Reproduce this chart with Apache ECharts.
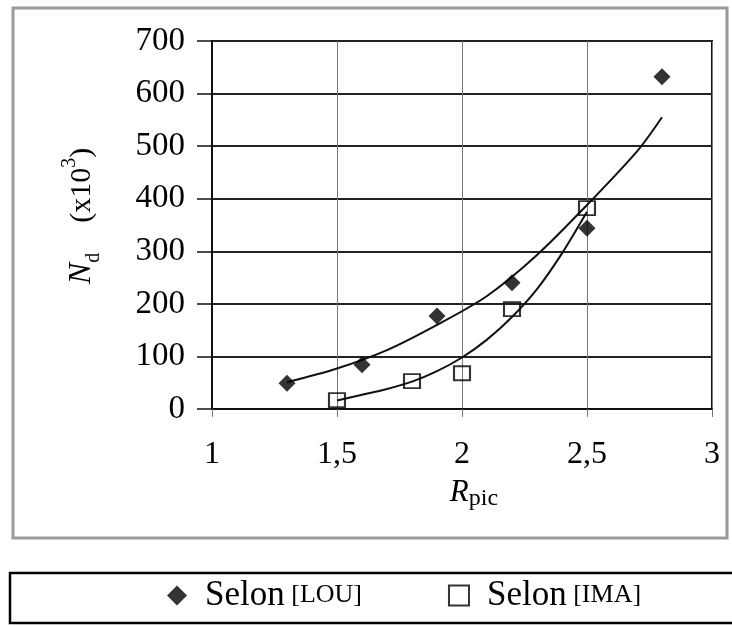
<!DOCTYPE html>
<html>
<head>
<meta charset="utf-8">
<script src="https://cdn.jsdelivr.net/npm/echarts@6/dist/echarts.min.js"></script>
<style>
  html, body { margin: 0; padding: 0; background: #fff; }
  #chart { width: 732px; height: 626px; }
</style>
</head>
<body>
<div id="chart"></div>
<script>
// ---- Data ----
const xTicks = [1, 1.5, 2, 2.5, 3];
const yTicks = [0, 100, 200, 300, 400, 500, 600, 700];

const louX = [1.3, 1.6, 1.9, 2.2, 2.5, 2.8];
const louY = [49, 84, 177, 240, 344, 632];

const imaX = [1.5, 1.8, 2.0, 2.2, 2.5];
const imaY = [17, 53, 68, 190, 382];

// trend curves
const louTrendX = [1.3, 1.5, 1.7, 1.9, 2.1, 2.3, 2.5, 2.7, 2.8];
const louTrendY = [51, 77, 112, 160, 215, 293, 388, 490, 555];

const imaTrendX = [1.5, 1.6, 1.7, 1.8, 1.9, 2.0, 2.1, 2.2, 2.3, 2.4, 2.5];
const imaTrendY = [16, 27, 38, 52, 72, 98, 132, 175, 228, 296, 375];

const seriesNames = ['Selon [LOU]', 'Selon [IMA]'];

const pairs = (xs, ys) => xs.map((x, i) => [x, ys[i]]);
const FONT = 'Liberation Serif';

const chart = echarts.init(document.getElementById('chart'), null, { renderer: 'canvas' });

chart.setOption({
  backgroundColor: '#fff',
  animation: false,
  textStyle: { fontFamily: FONT, color: '#000' },
  grid: {
    left: 212, right: 20, top: 41, bottom: 217,
    show: true, borderColor: '#111', borderWidth: 2, backgroundColor: 'transparent'
  },
  graphic: [
    { type: 'rect', z: -10, shape: { x: 13, y: 8, width: 714, height: 530 },
      style: { fill: 'none', stroke: '#9a9a9a', lineWidth: 3 } },
    { type: 'rect', z: -10, shape: { x: 10, y: 573, width: 740, height: 50 },
      style: { fill: 'none', stroke: '#000', lineWidth: 2.5 } }
  ],
  xAxis: {
    type: 'value', min: xTicks[0], max: xTicks[xTicks.length - 1], interval: 0.5,
    axisLine: { show: true, lineStyle: { color: '#111', width: 2 } },
    axisTick: { show: true, length: 8, lineStyle: { color: '#777', width: 1 } },
    splitLine: { show: true, lineStyle: { color: '#777', width: 1 } },
    axisLabel: {
      fontFamily: FONT, fontSize: 32, color: '#000', margin: 30,
      formatter: v => String(v).replace('.', ',')
    },
    name: '{r|R}{p|pic}',
    nameLocation: 'middle', nameGap: 66,
    nameTextStyle: {
      padding: [0, 0, 0, 24],
      rich: {
        r: { fontFamily: FONT, fontStyle: 'italic', fontSize: 31, lineHeight: 36, color: '#000' },
        p: { fontFamily: FONT, fontSize: 24, lineHeight: 30, verticalAlign: 'bottom', color: '#000' }
      }
    }
  },
  yAxis: {
    type: 'value', min: yTicks[0], max: yTicks[yTicks.length - 1], interval: 100,
    axisLine: { show: true, lineStyle: { color: '#111', width: 2 } },
    axisTick: { show: true, length: 15, lineStyle: { color: '#111', width: 1.5 } },
    splitLine: { show: true, lineStyle: { color: '#222', width: 1.8 } },
    axisLabel: { fontFamily: FONT, fontSize: 33, color: '#000', margin: 27 },
    name: '{n|N}{d|d}{s|    (x10}{sup|3}{s|)}',
    nameLocation: 'middle', nameGap: 108, nameRotate: 90,
    nameTextStyle: {
      padding: [0, 0, 0, 18],
      rich: {
        n: { fontFamily: FONT, fontStyle: 'italic', fontSize: 32, lineHeight: 44, color: '#000' },
        d: { fontFamily: FONT, fontSize: 20, lineHeight: 24, verticalAlign: 'bottom', color: '#000' },
        s: { fontFamily: FONT, fontSize: 30, lineHeight: 44, color: '#000' },
        sup: { fontFamily: FONT, fontSize: 20, lineHeight: 24, verticalAlign: 'top', color: '#000' }
      }
    }
  },
  legend: {
    left: 167, top: 578, padding: 0,
    itemWidth: 20, itemHeight: 20, itemGap: 86,
    data: [
      { name: seriesNames[0], icon: 'diamond', itemStyle: { color: '#000' } },
      { name: seriesNames[1], icon: 'rect',
        itemStyle: { color: '#fff', borderColor: '#000', borderWidth: 2 } }
    ],
    formatter: name => {
      const parts = name.split(' ');
      return '{a|' + parts[0] + '}{b| ' + parts[1] + '}';
    },
    textStyle: {
      rich: {
        a: { fontFamily: FONT, fontSize: 35, lineHeight: 40, color: '#000', padding: [0, 0, 0, 13] },
        b: { fontFamily: FONT, fontSize: 26, lineHeight: 40, color: '#000' }
      }
    }
  },
  series: [
    {
      name: 'trend LOU', type: 'line', smooth: 0.3, symbol: 'none', z: 2,
      lineStyle: { color: '#111', width: 2 },
      data: pairs(louTrendX, louTrendY)
    },
    {
      name: 'trend IMA', type: 'line', smooth: 0.3, symbol: 'none', z: 2,
      lineStyle: { color: '#111', width: 2 },
      data: pairs(imaTrendX, imaTrendY)
    },
    {
      name: seriesNames[0], type: 'scatter', symbol: 'diamond', symbolSize: 17, z: 5,
      itemStyle: { color: '#000' },
      data: pairs(louX, louY)
    },
    {
      name: seriesNames[1], type: 'scatter', symbol: 'rect', symbolSize: [16, 14], z: 5,
      itemStyle: { color: 'rgba(255,255,255,0)', borderColor: '#000', borderWidth: 2 },
      data: pairs(imaX, imaY)
    }
  ]
});
</script>
</body>
</html>
